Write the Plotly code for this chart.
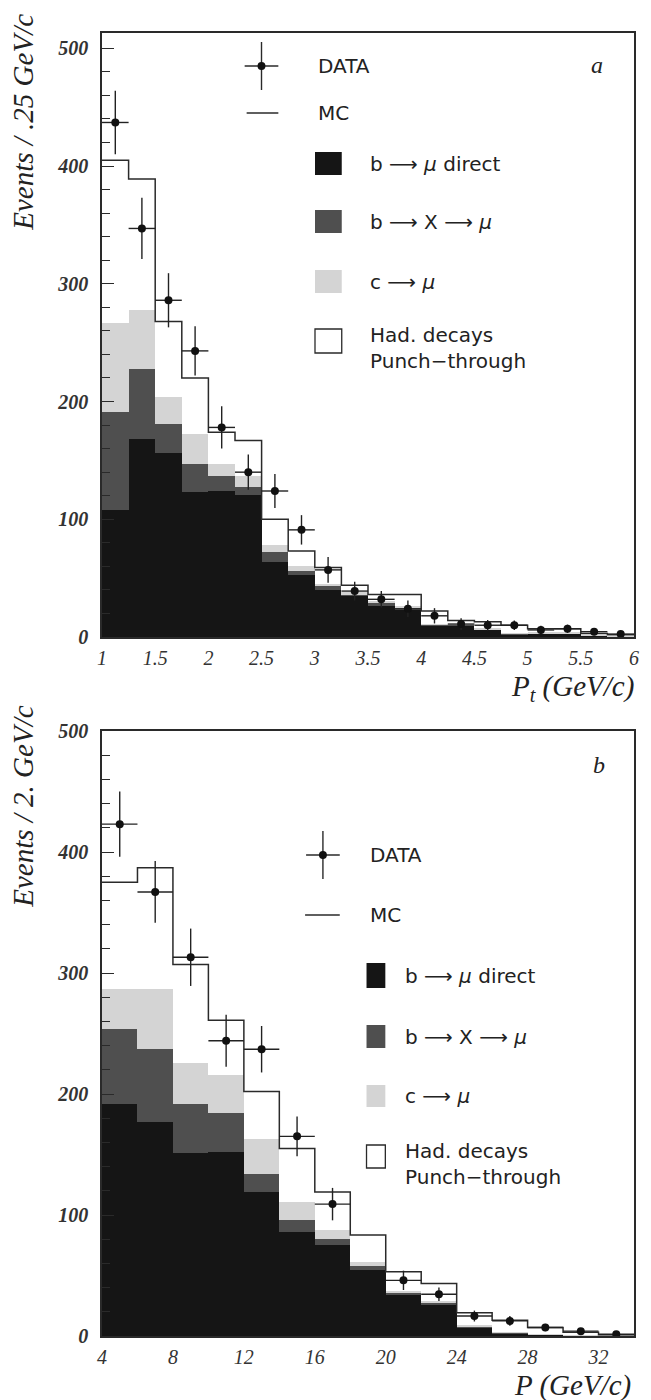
import plotly.graph_objects as go

# ---------------- data: panel a (Pt, bins of 0.25 GeV/c) ----------------
pt_centers = [1.125, 1.375, 1.625, 1.875, 2.125, 2.375, 2.625, 2.875, 3.125, 3.375,
              3.625, 3.875, 4.125, 4.375, 4.625, 4.875, 5.125, 5.375, 5.625, 5.875]
pt_width = 0.25
pt_direct = [108, 168, 156, 123, 124, 121, 64, 53, 40, 35, 26, 23, 10, 10, 6, 2.5, 3, 3, 1, 0.5]
pt_bx = [83, 60, 25, 24, 13, 6, 8, 3, 3, 1, 3, 1.5, 0.5, 0.5, 0.5, 0.2, 0.2, 0.2, 0.1, 0.1]
pt_c = [76, 50, 23, 25, 10, 10, 6, 4, 2, 2, 2, 1.5, 0.5, 0.5, 0.5, 0.3, 0.3, 0.3, 0.1, 0.1]
pt_had = [138, 111, 64, 48, 27, 30, 22, 13, 14, 6, 5, 10, 11, 3, 6, 7, 3.5, 3.5, 1.8, 1.3]
pt_data = [437, 347, 286, 243, 178, 140, 124, 91, 57, 39, 32, 24, 18, 11, 10, 10, 6, 7, 4.5, 2.5]
pt_err = [27, 26, 23, 21, 18, 15, 14.5, 12.5, 11, 8, 7, 7, 6.5, 5, 4.5, 4, 3.5, 3.5, 3, 2.5]
pt_ticks = [1, 1.5, 2, 2.5, 3, 3.5, 4, 4.5, 5, 5.5, 6]
pt_ticktext = ["1", "1.5", "2", "2.5", "3", "3.5", "4", "4.5", "5", "5.5", "6"]

# ---------------- data: panel b (P, bins of 2 GeV/c) ----------------
p_centers = [5, 7, 9, 11, 13, 15, 17, 19, 21, 23, 25, 27, 29, 31, 33]
p_width = 2.0
p_direct = [192, 177, 151, 152, 119, 86, 75, 54.5, 34.5, 26.4, 6.9, 2.2, 1, 0.3, 0]
p_bx = [62, 60, 41, 32, 15, 10, 5, 3.4, 1.3, 1.1, 0.6, 0.3, 0.2, 0.1, 0.1]
p_c = [33, 50, 34, 32, 29, 15, 8, 3.5, 1.4, 0.9, 0.8, 0.5, 0.3, 0.2, 0.1]
p_had = [88, 100, 81, 45, 39, 44, 31, 22, 16, 15, 11, 10, 5.5, 2.4, 0.8]
p_data = [423, 367, 313, 244, 237, 165, 109, None, 46, 34.5, 16.5, 12.5, 7, 4, 1.5]
p_err = [27, 25.5, 23.7, 21.4, 19.2, 16.5, 13.4, None, 8, 5.5, 4.5, 4, 3, 2, 1.5]
p_ticks = [4, 8, 12, 16, 20, 24, 28, 32]

y_ticks = [0, 100, 200, 300, 400, 500]

# ---------------- styling ----------------
W, H = 651, 1400
ML, MR, MT, MB = 102, 12, 33, 64
PW = W - ML - MR
PH = H - MT - MB
C_DIRECT = "#151515"
C_BX = "#4f4f4f"
C_C = "#d4d4d4"
C_LINE = "#2a2a2a"
SERIF = "Liberation Serif"
SANS = "DejaVu Sans"


def px(x):
    return (x - ML) / PW


def py(y):
    return (H - MB - y) / PH


fig = go.Figure()


def add_panel(centers, width, direct, bx, c, had, data, err, xa, ya):
    xref = "x" if xa == "" else "x" + xa
    yref = "y" if ya == "" else "y" + ya
    for vals, col in [(direct, C_DIRECT), (bx, C_BX), (c, C_C), (had, "rgba(255,255,255,0)")]:
        fig.add_trace(go.Bar(x=centers, y=vals, width=width, marker=dict(color=col, line=dict(width=0)),
                             xaxis=xref, yaxis=yref, showlegend=False, hoverinfo="skip"))
    total = [a + b + d + e for a, b, d, e in zip(direct, bx, c, had)]
    edges = [x - width / 2 for x in centers] + [centers[-1] + width / 2]
    fig.add_trace(go.Scatter(x=edges, y=total + [total[-1]], mode="lines", line_shape="hv",
                             line=dict(color=C_LINE, width=1.5), xaxis=xref, yaxis=yref,
                             showlegend=False, hoverinfo="skip"))
    fig.add_trace(go.Scatter(x=centers, y=data, mode="markers",
                             marker=dict(color="#111", size=8),
                             error_y=dict(type="data", array=err, color="#222", thickness=1.4, width=0),
                             error_x=dict(type="constant", value=width / 2, color="#222", thickness=1.4, width=0),
                             xaxis=xref, yaxis=yref, showlegend=False))


add_panel(pt_centers, pt_width, pt_direct, pt_bx, pt_c, pt_had, pt_data, pt_err, "", "")
add_panel(p_centers, p_width, p_direct, p_bx, p_c, p_had, p_data, p_err, "2", "2")

ytick_font = dict(family=SERIF, size=20, color="#333", weight="bold", style="italic")
xtick_font = dict(family=SERIF, size=20, color="#333", style="italic")
yax = dict(showline=True, mirror=True, linecolor=C_LINE, linewidth=1.5, showgrid=False, zeroline=False,
           ticks="inside", ticklen=12, tickcolor=C_LINE, tickwidth=1.2, tickvals=y_ticks,
           tickfont=ytick_font, ticklabelstandoff=8,
           minor=dict(ticks="inside", dtick=20, ticklen=8, tickcolor=C_LINE, tickwidth=1.2, showgrid=False))
xax = dict(showline=True, mirror=True, linecolor=C_LINE, linewidth=1.5, showgrid=False, zeroline=False,
           ticks="", tickfont=xtick_font, ticklabelstandoff=2)

top_a, bot_a = 33, 637
top_b, bot_b = 731, 1336

fig.update_layout(
    width=W, height=H, margin=dict(l=ML, r=MR, t=MT, b=MB),
    paper_bgcolor="white", plot_bgcolor="white", barmode="stack", bargap=0,
    xaxis=dict(xax, domain=[0, 1], range=[1, 6], tickvals=pt_ticks, ticktext=pt_ticktext, anchor="y"),
    yaxis=dict(yax, domain=[py(bot_a), py(top_a)], range=[0, 513], anchor="x"),
    xaxis2=dict(xax, domain=[0, 1], range=[4, 34], tickvals=p_ticks, anchor="y2"),
    yaxis2=dict(yax, domain=[py(bot_b), py(top_b)], range=[0, 500], anchor="x2"),
)

ann = []
title_font = dict(family=SERIF, size=29, color="#222", style="italic")
ann.append(dict(text="Events / .25 GeV/c", x=px(22), y=py(122), xref="paper", yref="paper",
                textangle=-90, showarrow=False, font=title_font, xanchor="center", yanchor="middle"))
ann.append(dict(text="Events / 2. GeV/c", x=px(22), y=py(807), xref="paper", yref="paper",
                textangle=-90, showarrow=False, font=title_font, xanchor="center", yanchor="middle"))
ann.append(dict(text="P<sub>t</sub> (GeV/c)", x=px(641), y=py(688), xref="paper", yref="paper",
                showarrow=False, font=title_font, xanchor="right", yanchor="middle"))
ann.append(dict(text="P (GeV/c)", x=px(638), y=py(1385), xref="paper", yref="paper",
                showarrow=False, font=title_font, xanchor="right", yanchor="middle"))
lab_font = dict(family=SERIF, size=24, color="#222", style="italic")
ann.append(dict(text="a", x=px(602), y=py(65), xref="paper", yref="paper", showarrow=False,
                font=lab_font, xanchor="center", yanchor="middle"))
ann.append(dict(text="b", x=px(604), y=py(765), xref="paper", yref="paper", showarrow=False,
                font=lab_font, xanchor="center", yanchor="middle"))

shapes = []
leg_font = dict(family=SANS, size=20, color="#222")


def legend(cx_data, y_data, y_mc, mc_x0, mc_x1, text_x0, box_x0, box_x1, box_rows, text_x1, had_row):
    # DATA symbol
    shapes.append(dict(type="line", xref="paper", yref="paper", x0=px(cx_data), x1=px(cx_data),
                       y0=py(y_data - 24), y1=py(y_data + 24), line=dict(color=C_LINE, width=1.4)))
    shapes.append(dict(type="line", xref="paper", yref="paper", x0=px(cx_data - 17), x1=px(cx_data + 17),
                       y0=py(y_data), y1=py(y_data), line=dict(color=C_LINE, width=1.4)))
    shapes.append(dict(type="circle", xref="paper", yref="paper", x0=px(cx_data - 4), x1=px(cx_data + 4),
                       y0=py(y_data - 4), y1=py(y_data + 4), fillcolor="#111", line=dict(width=0)))
    ann.append(dict(text="DATA", x=px(text_x0), y=py(y_data), xref="paper", yref="paper", showarrow=False,
                    font=leg_font, xanchor="left", yanchor="middle"))
    # MC line
    shapes.append(dict(type="line", xref="paper", yref="paper", x0=px(mc_x0), x1=px(mc_x1),
                       y0=py(y_mc), y1=py(y_mc), line=dict(color=C_LINE, width=1.4)))
    ann.append(dict(text="MC", x=px(text_x0), y=py(y_mc), xref="paper", yref="paper", showarrow=False,
                    font=leg_font, xanchor="left", yanchor="middle"))
    labels = ["b ⟶ <i>μ</i> direct", "b ⟶ X ⟶ <i>μ</i>", "c ⟶ <i>μ</i>"]
    cols = [C_DIRECT, C_BX, C_C]
    for (y0, y1), lab, col in zip(box_rows, labels, cols):
        shapes.append(dict(type="rect", xref="paper", yref="paper", x0=px(box_x0), x1=px(box_x1),
                           y0=py(y1), y1=py(y0), fillcolor=col, line=dict(width=0)))
        ann.append(dict(text=lab, x=px(text_x1), y=py((y0 + y1) / 2), xref="paper", yref="paper",
                        showarrow=False, font=leg_font, xanchor="left", yanchor="middle"))
    y0, y1 = had_row
    shapes.append(dict(type="rect", xref="paper", yref="paper", x0=px(box_x0), x1=px(box_x1),
                       y0=py(y1), y1=py(y0), fillcolor="white", line=dict(color=C_LINE, width=1.3)))
    ann.append(dict(text="Had. decays<br>Punch−through", x=px(text_x1), y=py(y0 - 8), xref="paper",
                    yref="paper", showarrow=False, font=leg_font, xanchor="left", yanchor="top",
                    align="left"))


legend(263, 66, 113, 248, 280, 318, 317, 344, [(152, 175), (210, 233), (270, 293)], 370, (329, 353))
legend(325, 855, 915, 307, 342, 370, 369, 388, [(963, 988), (1025, 1048), (1085, 1107)], 406, (1145, 1168))

fig.update_layout(annotations=ann, shapes=shapes)
fig.write_html("out.html")
